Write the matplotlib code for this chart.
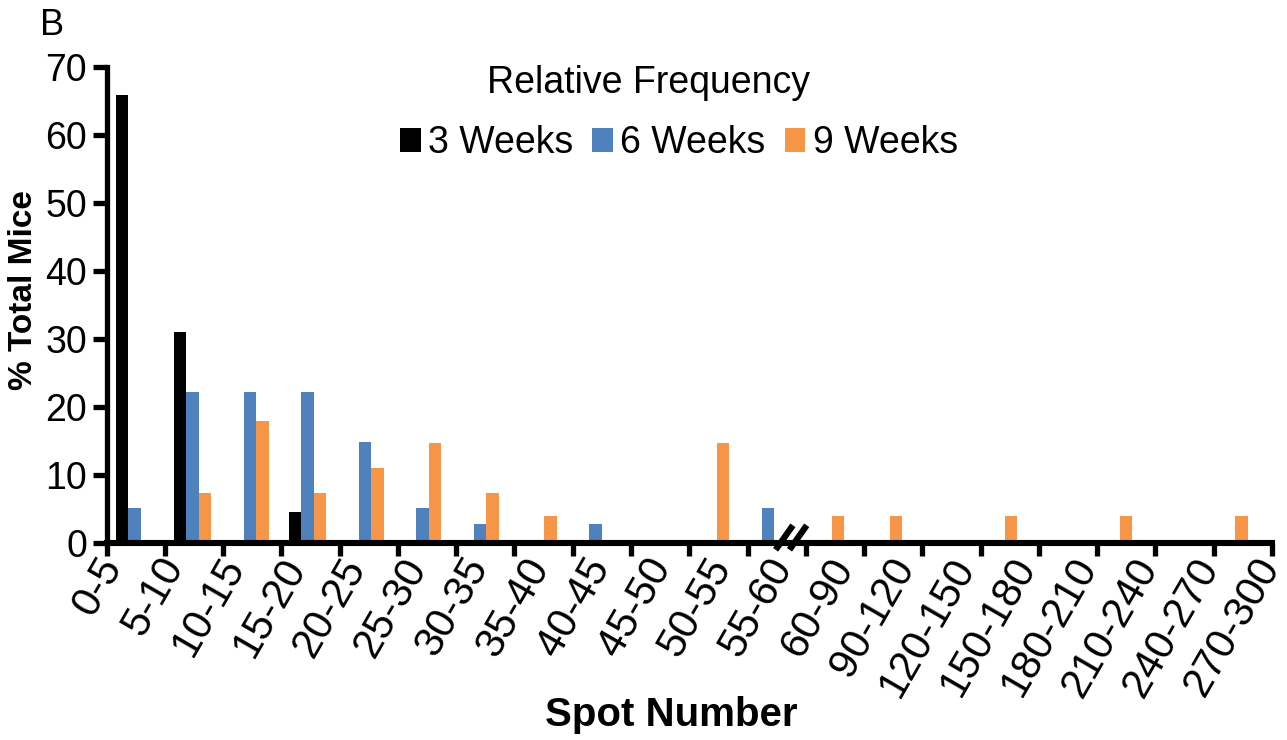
import numpy as np
import matplotlib.pyplot as plt
from matplotlib.patches import Patch

plt.rcParams['font.family'] = ['Liberation Sans', 'DejaVu Sans']

bins = ['0-5', '5-10', '10-15', '15-20', '20-25', '25-30', '30-35', '35-40',
        '40-45', '45-50', '50-55', '55-60', '60-90', '90-120', '120-150',
        '150-180', '180-210', '210-240', '240-270', '270-300']
weeks3 = [65.9, 31.0, 0, 4.6, 0, 0, 0, 0, 0, 0, 0, 0,
          0, 0, 0, 0, 0, 0, 0, 0]
weeks6 = [5.1, 22.2, 22.2, 22.2, 14.8, 5.1, 2.8, 0, 2.8, 0, 0, 5.1,
          0, 0, 0, 0, 0, 0, 0, 0]
weeks9 = [0, 7.4, 18.0, 7.4, 11.0, 14.7, 7.4, 4.0, 0, 0, 14.7, 0,
          4.0, 4.0, 0, 4.0, 0, 4.0, 0, 4.0]
series = ['3 Weeks', '6 Weeks', '9 Weeks']
colors = ['#000000', '#4F81BD', '#F79646']

fig = plt.figure(figsize=(12.87, 7.40), dpi=100)
ax = fig.add_axes([106.5 / 1287, 1 - 543 / 740, (1272 - 106.5) / 1287, 476 / 740])

x = np.arange(len(bins))
w = 0.217
for k, (vals, c) in enumerate(zip([weeks3, weeks6, weeks9], colors)):
    ax.bar(x + (k - 1) * w, vals, width=w, color=c, linewidth=0, zorder=2)

xlo, xhi = -0.49, 19.75
ax.set_xlim(xlo, xhi)
ax.set_ylim(0, 70)

for s in ['top', 'right']:
    ax.spines[s].set_visible(False)
ax.spines['left'].set_linewidth(3.8)
ax.spines['bottom'].set_linewidth(4.4)
ax.spines['left'].set_bounds(0, 70)

ax.set_yticks(range(0, 71, 10))
ax.tick_params(axis='y', length=10, width=3.8, labelsize=27, pad=4)

# boundary ticks, no labels on the axis itself
bounds = np.linspace(xlo, xhi, 21)
ax.set_xticks(bounds)
ax.set_xticklabels([])
ax.tick_params(axis='x', length=9, width=3.8, direction='out')

# category labels, spread a bit wider than the ticks as in the original
lab_x = np.linspace(-0.37, 19.73, len(bins))
for lx, lab in zip(lab_x, bins):
    ax.text(lx, -2.6, lab, rotation=60, ha='right', va='center',
            rotation_mode='anchor', fontsize=30, clip_on=False)

# axis break marks
for x0 in [11.13, 11.37]:
    ax.plot([x0, x0 + 0.3], [-1.0, 2.6], color='black', lw=4.5,
            clip_on=False, zorder=5, solid_capstyle='butt')

fig.text(24 / 1287, 1 - 290 / 740, '% Total Mice', rotation=90, ha='center',
         va='center', fontsize=24, fontweight='bold')
fig.text(671 / 1287, 1 - 715 / 740, 'Spot Number', ha='center', va='center',
         fontsize=29, fontweight='bold')
fig.text(40 / 1287, 1 - 8 / 740, 'B', ha='left', va='top', fontsize=26)
fig.text(648 / 1287, 1 - 83 / 740, 'Relative Frequency', ha='center',
         va='center', fontsize=27)

handles = [Patch(facecolor=c, edgecolor='none') for c in colors]
ax.legend(handles, series, ncol=3, fontsize=27, frameon=False,
          loc='center', bbox_to_anchor=(679 / 1287, 1 - 143 / 740),
          bbox_transform=fig.transFigure, handlelength=0.55,
          handleheight=0.6, handletextpad=0.2, columnspacing=0.5,
          borderpad=0, borderaxespad=0)

plt.savefig('out.png', dpi=100)
